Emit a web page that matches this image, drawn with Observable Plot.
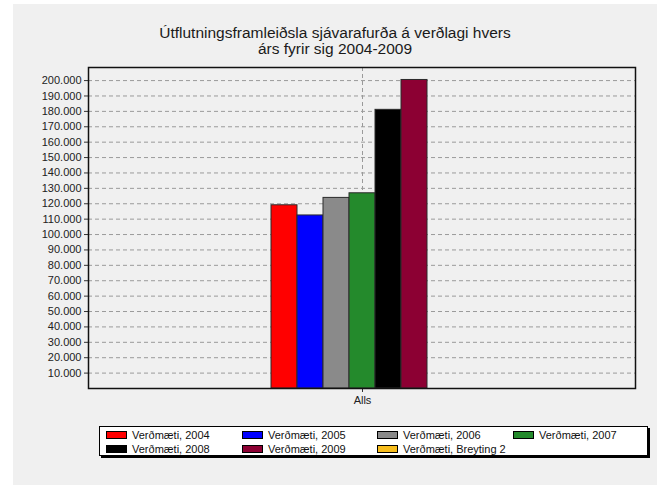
<!DOCTYPE html>
<html>
<head>
<meta charset="utf-8">
<script src="https://cdn.jsdelivr.net/npm/d3@7"></script>
<script src="https://cdn.jsdelivr.net/npm/@observablehq/plot@0.6"></script>
<style>
  html, body { margin: 0; padding: 0; background: #ffffff; }
  #wrap { position: relative; width: 657px; height: 488px; overflow: hidden; background: #ffffff; font-family: "Liberation Sans", Arial, sans-serif; }
  #panel { position: absolute; left: 13px; top: 4px; width: 644px; height: 481px; background: #f0f0f0; }
  #title { position: absolute; left: 0; width: 670px; top: 25px; text-align: center; font-size: 15.5px; line-height: 16px; color: #1a1a1a; }
  #chart { position: absolute; left: 0; top: 0; }
  #legend { position: absolute; left: 99px; top: 426px; width: 549px; height: 30px; background: #fff; border: 1px solid #000; box-shadow: 2px 2px 0 #000; box-sizing: border-box; }
  .item { position: absolute; font-size: 11px; line-height: 12px; color: #111; white-space: nowrap; }
  .sw { position: absolute; left: 0; top: 2px; width: 21px; height: 8px; border: 1px solid #000; box-sizing: border-box; }
  .lab { position: absolute; left: 26px; top: 0; }
</style>
</head>
<body>
<div id="wrap">
  <div id="panel"></div>
  <div id="chart"></div>
  <div id="title">Útflutningsframleiðsla sjávarafurða á verðlagi hvers<br>árs fyrir sig 2004-2009</div>
  <div id="legend"></div>
</div>
<script>
const groups = ["Alls"];
const series = ["Verðmæti, 2004", "Verðmæti, 2005", "Verðmæti, 2006", "Verðmæti, 2007", "Verðmæti, 2008", "Verðmæti, 2009", "Verðmæti, Breyting 2"];
const values = [119000, 112400, 123800, 126800, 181000, 200400, null];
const colors = ["#ff0000", "#0000ff", "#8a8a8a", "#248a2c", "#000000", "#8c0033", "#f7bd1c"];
const yTicks = [10000, 20000, 30000, 40000, 50000, 60000, 70000, 80000, 90000, 100000, 110000, 120000, 130000, 140000, 150000, 160000, 170000, 180000, 190000, 200000];

const data = series.map((s, i) => ({series: s, value: values[i], group: groups[0]}));
const fmt = d => d3.format(",")(d).replace(/,/g, ".");
const middle = series[Math.floor(series.length / 2)];

const chart = Plot.plot({
  width: 657,
  height: 420,
  marginLeft: 88,
  marginRight: 22,
  marginTop: 67,
  marginBottom: 32,
  style: {background: "transparent", fontFamily: "Liberation Sans, Arial, sans-serif", fontSize: "11px", color: "#222"},
  x: {type: "band", domain: series, paddingInner: 0, paddingOuter: 7},
  y: {domain: [0, 208500]},
  color: {domain: series, range: colors},
  marks: [
    Plot.frame({fill: "#f0f0f0", stroke: null}),
    Plot.ruleY(yTicks, {stroke: "#9a9a9a", strokeDasharray: "4,3", strokeWidth: 1}),
    Plot.ruleX([middle], {stroke: "#9a9a9a", strokeDasharray: "4,3", strokeWidth: 1}),
    Plot.barY(data, {x: "series", y: "value", fill: "series", stroke: "#2a2a2a", strokeWidth: 1, inset: 0}),
    Plot.axisY({ticks: yTicks, tickFormat: fmt, tickSize: 4, tickPadding: 3, label: null, stroke: "#333", fill: "#222"}),
    Plot.axisX({ticks: [middle], tickFormat: () => groups[0], tickSize: 4, tickPadding: 4, label: null, stroke: "#333", fill: "#222", fontSize: 11}),
    Plot.frame({stroke: "#111", strokeWidth: 1.5})
  ]
});
document.getElementById("chart").appendChild(chart);

const legend = document.getElementById("legend");
const colX = [6, 142, 277, 413];
series.forEach((s, i) => {
  const item = document.createElement("div");
  item.className = "item";
  item.style.left = colX[i % 4] + "px";
  item.style.top = (2 + Math.floor(i / 4) * 14) + "px";
  const sw = document.createElement("div");
  sw.className = "sw";
  sw.style.background = colors[i];
  const lab = document.createElement("span");
  lab.className = "lab";
  lab.textContent = s;
  item.appendChild(sw);
  item.appendChild(lab);
  legend.appendChild(item);
});
</script>
</body>
</html>
